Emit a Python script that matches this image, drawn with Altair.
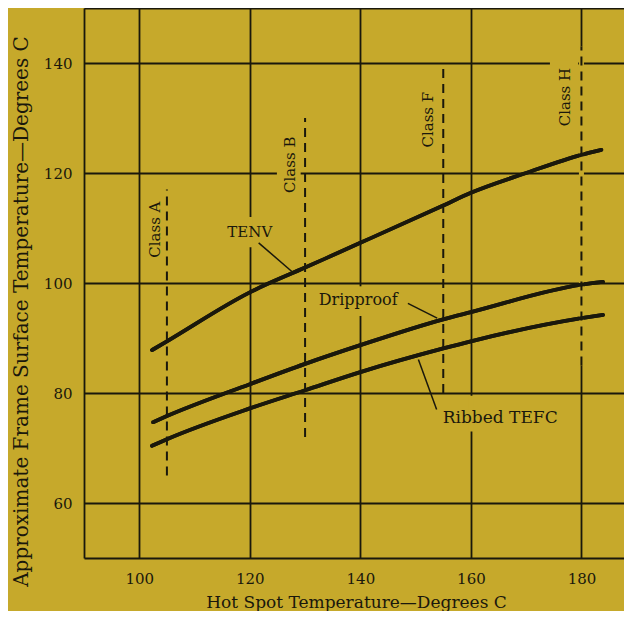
import altair as alt
import pandas as pd

BG = "#C6A92B"
INK = "#1a180c"
FONT = "DejaVu Serif"

# --- data ---
tenv_x = [102.3, 105, 120, 130, 140, 155, 160, 170, 180, 183.6]
tenv_y = [87.8, 89.4, 98.3, 102.8, 107.3, 114.1, 116.4, 120.0, 123.3, 124.2]
drip_x = [102.5, 105, 120, 130, 140, 155, 160, 180, 183.9]
drip_y = [74.7, 75.8, 81.6, 85.3, 88.7, 93.4, 94.7, 99.7, 100.2]
rib_x = [102.3, 105, 120, 130, 140, 155, 160, 180, 183.9]
rib_y = [70.4, 71.6, 77.2, 80.5, 83.8, 88.1, 89.4, 93.6, 94.2]

class_names = ["Class A", "Class B", "Class F", "Class H"]
class_x = [105, 130, 155, 180]
class_lo = [65, 72, 80, 85]
class_hi = [117, 130, 140, 143]
class_label_x = [102.9, 127.3, 152.3, 177.1]
class_label_y = [109.7, 121.5, 129.7, 133.8]

curve_labels = ["TENV", "Dripproof", "Ribbed TEFC"]
curve_label_x = [120, 139.6, 165.3]
curve_label_y = [109.2, 97.0, 75.4]
curve_label_size = [15, 16, 17]
leader_x = [121.6, 148.6, 153.8]
leader_y = [107.3, 96.3, 77.0]
leader_x2 = [127.6, 153.9, 150.5]
leader_y2 = [102.1, 93.6, 86.1]

x_ticks = [90, 100, 120, 140, 160, 180]
y_ticks = [50, 60, 80, 100, 120, 140, 150]

# gaps in the printed grid (around labels)
vgap_x = [180, 120, 160, 140]
vgap_lo = [85, 106.5, 73, 94]
vgap_hi = [143, 112, 79.5, 99.4]
hgap_y = [120, 140]
hgap_lo = [124.9, 174.3]
hgap_hi = [129.2, 179.4]

# --- tables ---
curves = pd.DataFrame(
    {"series": ["TENV"] * len(tenv_x) + ["Dripproof"] * len(drip_x) + ["Ribbed TEFC"] * len(rib_x),
     "x": tenv_x + drip_x + rib_x,
     "y": tenv_y + drip_y + rib_y}
)
classes = pd.DataFrame({"name": class_names, "x": class_x, "lo": class_lo, "hi": class_hi,
                        "lx": class_label_x, "ly": class_label_y})
labels = pd.DataFrame({"name": curve_labels, "x": curve_label_x, "y": curve_label_y,
                       "size": curve_label_size,
                       "lx": leader_x, "ly": leader_y, "lx2": leader_x2, "ly2": leader_y2})
vgaps = pd.DataFrame({"x": vgap_x, "lo": vgap_lo, "hi": vgap_hi})
hgaps = pd.DataFrame({"y": hgap_y, "lo": hgap_lo, "hi": hgap_hi})

xs = alt.Scale(domain=[90, 187.7], nice=False, zero=False)
ys = alt.Scale(domain=[50, 150], nice=False, zero=False)

xaxis = alt.Axis(values=x_ticks, labelExpr="datum.value == 90 ? '' : datum.label",
                 title="Hot Spot Temperature—Degrees C", grid=True, ticks=False, domain=False,
                 labelPadding=13, titleY=44, titleBaseline="middle", titleFontSize=17,
                 titleX=272)
yaxis = alt.Axis(values=y_ticks,
                 labelExpr="(datum.value == 50 || datum.value == 150) ? '' : datum.label",
                 title="Approximate Frame Surface Temperature—Degrees C", grid=True, ticks=False,
                 domain=False, labelPadding=12, titleX=-63, titleY=303, titleBaseline="middle",
                 titleFontSize=20)

base_lines = alt.Chart(curves).mark_line(
    interpolate="monotone", strokeWidth=3.8, color=INK, strokeCap="round"
).encode(
    x=alt.X("x:Q", scale=xs, axis=xaxis),
    y=alt.Y("y:Q", scale=ys, axis=yaxis),
    detail="series:N",
)

vmask = alt.Chart(vgaps).mark_rule(color=BG, strokeWidth=5).encode(
    x=alt.X("x:Q", scale=xs), y=alt.Y("lo:Q", scale=ys), y2="hi:Q"
)
hmask = alt.Chart(hgaps).mark_rule(color=BG, strokeWidth=5).encode(
    y=alt.Y("y:Q", scale=ys), x=alt.X("lo:Q", scale=xs), x2="hi:Q"
)

class_rules = alt.Chart(classes).mark_rule(color=INK, strokeWidth=2, strokeDash=[9, 6]).encode(
    x=alt.X("x:Q", scale=xs), y=alt.Y("lo:Q", scale=ys), y2="hi:Q"
)
class_text = alt.Chart(classes).mark_text(
    angle=270, font=FONT, fontSize=15, color=INK, baseline="middle", align="center"
).encode(x=alt.X("lx:Q", scale=xs), y=alt.Y("ly:Q", scale=ys), text="name:N")

leaders = alt.Chart(labels).mark_rule(color=INK, strokeWidth=1.5).encode(
    x=alt.X("lx:Q", scale=xs), y=alt.Y("ly:Q", scale=ys), x2="lx2:Q", y2="ly2:Q"
)
curve_text = alt.Chart(labels).mark_text(
    font=FONT, color=INK, baseline="middle", align="center"
).encode(
    x=alt.X("x:Q", scale=xs), y=alt.Y("y:Q", scale=ys), text="name:N",
    size=alt.Size("size:Q", scale=None, legend=None),
)

chart = alt.layer(
    base_lines, vmask, hmask, class_rules, base_lines, leaders, class_text, curve_text
).properties(
    width=540, height=550,
    autosize=alt.AutoSizeParams(type="none"),
    padding={"left": 76, "top": 0, "right": 0, "bottom": 53},
    background=BG,
).configure_view(strokeWidth=0).configure_axis(
    gridColor=INK, gridWidth=1.8, gridOpacity=1,
    labelFont=FONT, labelFontSize=15, labelColor=INK,
    titleFont=FONT, titleFontWeight="normal", titleColor=INK,
)

chart.save("out.html", embed_options={"renderer": "svg", "actions": False})
